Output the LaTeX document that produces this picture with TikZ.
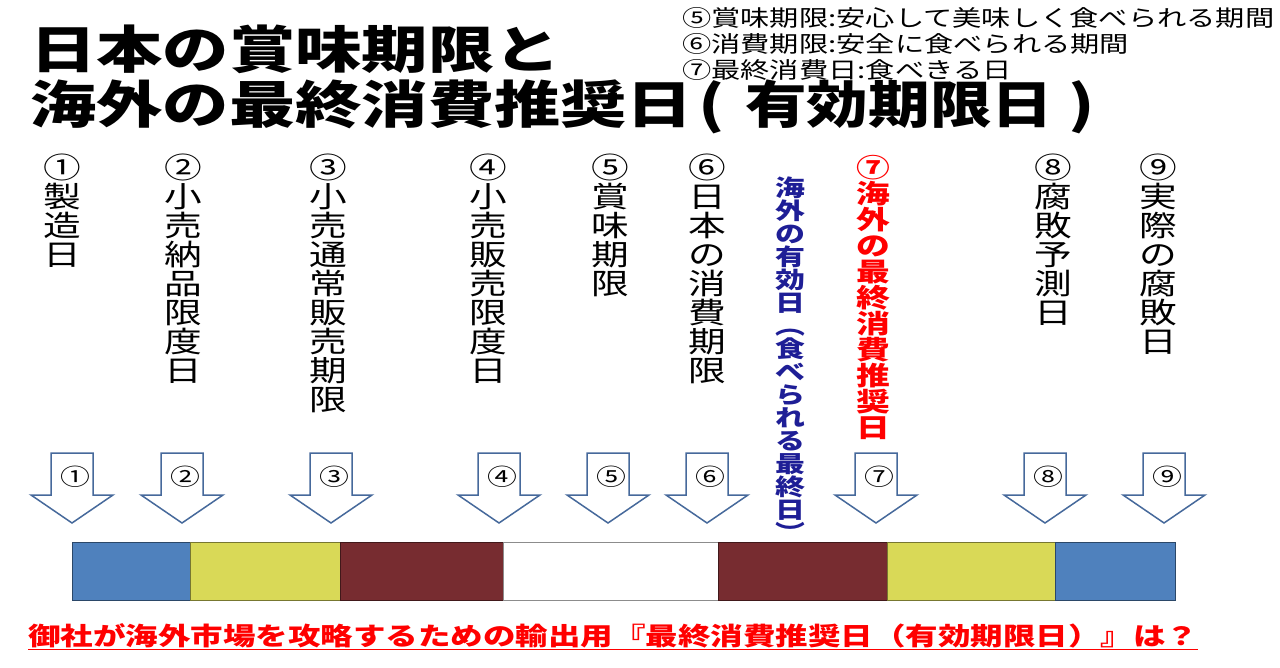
\documentclass[tikz,border=0pt]{standalone}
\usepackage{fontspec}
\newfontfamily\jp[FakeStretch=1.3]{Noto Sans CJK JP}
\usetikzlibrary{positioning}
\setlength{\lineskiplimit}{-20pt}

\definecolor{barblue}{RGB}{79,129,189}
\definecolor{baryellow}{RGB}{217,217,87}
\definecolor{barred}{RGB}{119,44,48}
\definecolor{arrowblue}{RGB}{70,105,155}
\definecolor{navytext}{RGB}{30,30,150}

\tikzset{
  col/.style={anchor=north, align=center, inner sep=0pt,
    font=\jp\fontsize{29}{29}\selectfont},
  titletext/.style={anchor=base west, inner sep=0pt,
    font=\jp\bfseries\fontsize{51}{51}\selectfont},
  blockarrow/.style={draw=arrowblue, fill=white, line width=1.5pt, line join=miter},
  numlabel/.style={inner sep=0pt, font=\jp\fontsize{23}{23}\selectfont}
}

\begin{document}
\begin{tikzpicture}[x=1pt, y=-1pt]
  \useasboundingbox (0,0) rectangle (1280,668);

  % title
  \node[titletext] (T1) at (30,69) {日本の賞味期限と};
  \node[titletext] (T2) at (30,124) {海外の最終消費推奨日};
  \node[titletext, base right=5pt of T2] (T3) {(};
  \node[titletext] (T4) at (745,124) {\scalebox{0.93}[1]{有効期限日}};
  \node[titletext] (T5) at (1068,124) {)};

  % legend
  \node[anchor=north west, align=left, inner sep=0pt,
    font=\jp\fontsize{22.5}{26}\selectfont] (L) at (682,7)
    {⑤賞味期限:安心して美味しく食べられる期間\\
     ⑥消費期限:安全に食べられる期間\\
     ⑦最終消費日:食べきる日};

  % columns
  \node[col] (C1) at (62,154) {①\\製\\造\\日};
  \node[col] (C2) at (183,154) {②\\小\\売\\納\\品\\限\\度\\日};
  \node[col] (C3) at (328,154) {③\\小\\売\\通\\常\\販\\売\\期\\限};
  \node[col] (C4) at (488,154) {④\\小\\売\\販\\売\\限\\度\\日};
  \node[col] (C5) at (610,154) {⑤\\賞\\味\\期\\限};
  \node[col] (C6) at (707,154) {⑥\\日\\本\\の\\消\\費\\期\\限};
  \node[col, text=navytext, font=\jp\bfseries\fontsize{23}{23}\selectfont] (CB) at (790,177)
    {海\\外\\の\\有\\効\\日\\︵\\食\\べ\\ら\\れ\\る\\最\\終\\日\\︶};
  \node[col, text=red, font=\jp\bfseries\fontsize{26}{26}\selectfont] (C7) at (873,155)
    {⑦\\海\\外\\の\\最\\終\\消\\費\\推\\奨\\日};
  \node[col] (C8) at (1053,154) {⑧\\腐\\敗\\予\\測\\日};
  \node[col] (C9) at (1158,154) {⑨\\実\\際\\の\\腐\\敗\\日};

  % arrows
  \foreach \cx/\lab [count=\i] in {72/①,182/②,331/③,499/④,608/⑤,707/⑥,876/⑦,1045/⑧,1164/⑨}{
    \draw[blockarrow] (\cx-21,453) -- (\cx+21,453) -- (\cx+21,495) -- (\cx+41,495)
      -- (\cx,523) -- (\cx-41,495) -- (\cx-21,495) -- cycle;
    \node[numlabel] (N\i) at (\cx+3,477) {\lab};
  }

  % bar
  \foreach \xa/\xb/\c in {72/190/barblue,190/340/baryellow,340/503/barred,503/718/white,
                          718/887/barred,887/1055/baryellow,1055/1175/barblue}{
    \draw[fill=\c, draw=\c!55!black, line width=1pt] (\xa,542) rectangle (\xb,600);
  }

  % question
  \node[anchor=base west, inner sep=0pt, text=red,
    font=\jp\bfseries\fontsize{25}{25}\selectfont] (Q) at (28,645)
    {御社が海外市場を攻略するための輸出用『最終消費推奨日（有効期限日）』は？};
  \draw[red, line width=1.2pt] ([yshift=-2pt]Q.south west) -- ([yshift=-2pt]Q.south east);
\end{tikzpicture}
\end{document}
